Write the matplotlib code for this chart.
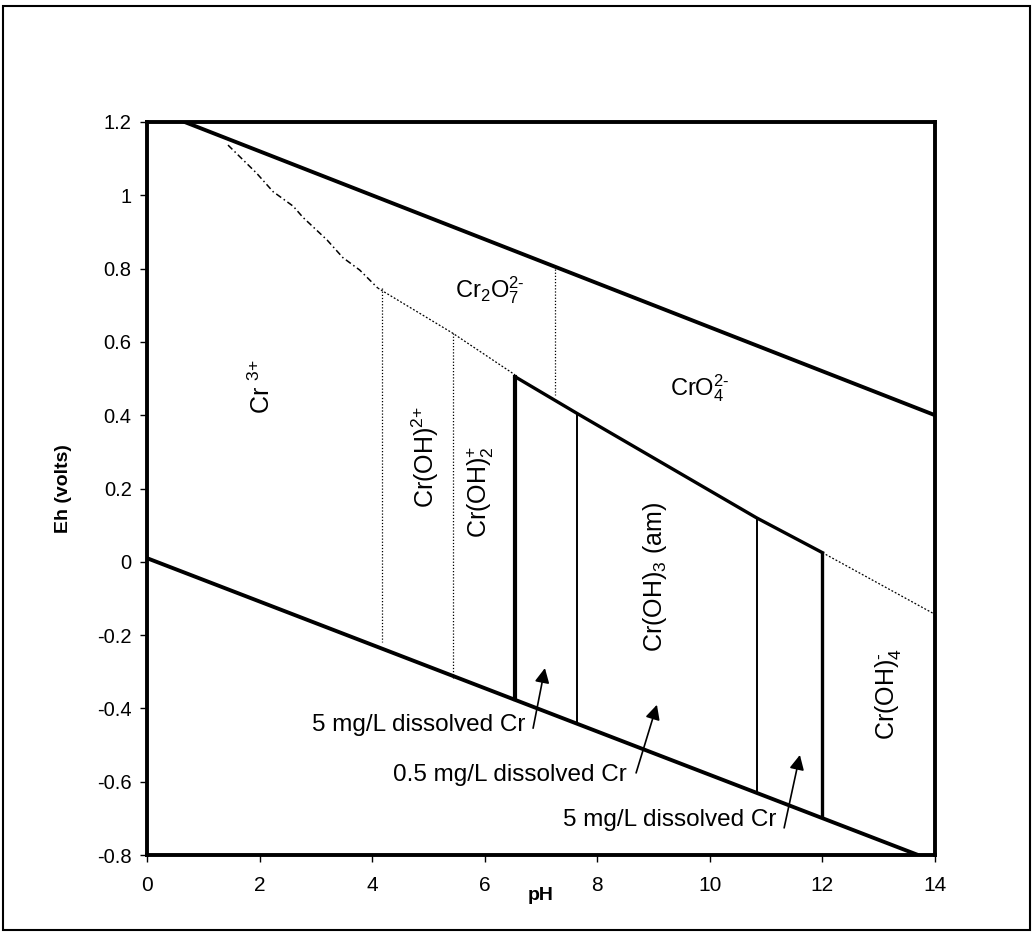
import matplotlib.pyplot as plt
from matplotlib.patches import Rectangle

plt.rcParams['font.family'] = ['Liberation Sans', 'DejaVu Sans']
plt.rcParams['mathtext.fontset'] = 'custom'
plt.rcParams['mathtext.rm'] = 'Liberation Sans'
plt.rcParams['mathtext.it'] = 'Liberation Sans:italic'
plt.rcParams['mathtext.bf'] = 'Liberation Sans:bold'

# water stability limits
upper_water_ph = [0.67, 14.0]
upper_water_eh = [1.2, 0.40]
lower_water_ph = [0.0, 13.7]
lower_water_eh = [0.01, -0.80]

# Cr3+ / Cr2O7 2- boundary (dashed, hand-drawn look)
dash_ph = [1.44, 1.95, 2.24, 2.6, 2.77, 3.2, 3.48, 3.78, 4.1]
dash_eh = [1.137, 1.06, 1.01, 0.97, 0.94, 0.878, 0.83, 0.796, 0.747]
# dotted continuation to Cr(OH)3 field
dot_ph = [4.1, 5.43, 6.54]
dot_eh = [0.747, 0.624, 0.51]
# Cr(OH)3 (am) upper boundary
solid_ph = [6.54, 7.64, 10.83, 12.0]
solid_eh = [0.505, 0.405, 0.12, 0.025]
dot2_ph = [12.0, 13.96]
dot2_eh = [0.025, -0.14]

# dotted verticals (pH, top, bottom)
dotted_v = [(4.17, 0.747, -0.22), (5.43, 0.624, -0.32), (7.25, 0.80, 0.455)]
# solid verticals (pH, top, bottom, width)
solid_v = [(6.54, 0.505, -0.375, 3.0), (7.64, 0.405, -0.44, 1.4),
           (10.83, 0.12, -0.63, 1.4), (12.0, 0.025, -0.69, 2.4)]

labels = [
    ('Cr $^{\\text{3+}}$', 2.04, 0.477),
    ('Cr(OH)$^{\\text{2+}}$', 4.94, 0.286),
    ('Cr(OH)$_{\\text{2}}^{\\text{+}}$', 5.92, 0.19),
    ('Cr(OH)$_{\\text{3}}$ (am)', 9.02, -0.04),
    ('Cr(OH)$_{\\text{4}}^{\\text{-}}$', 13.16, -0.36),
]
flat_labels = [
    ('Cr$_{\\text{2}}$O$_{\\text{7}}^{\\text{2-}}$', 6.09, 0.742),
    ('CrO$_{\\text{4}}^{\\text{2-}}$', 9.82, 0.474),
]
notes = [
    ('5 mg/L dissolved Cr', 6.72, -0.446, (6.86, -0.454), (7.07, -0.29)),
    ('0.5 mg/L dissolved Cr', 8.53, -0.582, (8.69, -0.576), (9.06, -0.39)),
    ('5 mg/L dissolved Cr', 11.19, -0.705, (11.32, -0.726), (11.60, -0.527)),
]

fig = plt.figure(figsize=(10.32, 9.32), dpi=100)
ax = fig.add_axes([0.1424, 0.0826, 0.7636, 0.7865])

ax.plot(upper_water_ph, upper_water_eh, color='black', lw=2.8)
ax.plot(lower_water_ph, lower_water_eh, color='black', lw=2.8)
ax.plot(dash_ph, dash_eh, color='black', lw=1.1, dashes=(4, 2, 1, 2))
ax.plot(dot_ph, dot_eh, color='black', lw=0.9, dashes=(1.5, 1.5))
ax.plot(solid_ph, solid_eh, color='black', lw=2.4)
ax.plot(dot2_ph, dot2_eh, color='black', lw=0.9, dashes=(1.5, 1.5))

for x, top, bot in dotted_v:
    ax.plot([x, x], [top, bot], color='black', lw=0.9, dashes=(1, 1.5))
for x, top, bot, w in solid_v:
    ax.plot([x, x], [top, bot], color='black', lw=w)

for txt, x, y in labels:
    ax.text(x, y, txt, rotation=90, ha='center', va='center', fontsize=18)
for txt, x, y in flat_labels:
    ax.text(x, y, txt, ha='center', va='center', fontsize=17)

for txt, x, y, tail, head in notes:
    ax.text(x, y, txt, ha='right', va='center', fontsize=17.5)
    ax.annotate('', xy=head, xytext=tail,
                arrowprops=dict(arrowstyle='-|>', color='black', lw=1.2,
                                mutation_scale=22, shrinkA=0, shrinkB=0))

ax.set_xlim(0, 14)
ax.set_ylim(-0.8, 1.2)
ax.set_xticks([0, 2, 4, 6, 8, 10, 12, 14])
ax.set_yticks([-0.8, -0.6, -0.4, -0.2, 0, 0.2, 0.4, 0.6, 0.8, 1, 1.2])
ax.set_yticklabels(['-0.8', '-0.6', '-0.4', '-0.2', '0', '0.2', '0.4',
                    '0.6', '0.8', '1', '1.2'])
ax.tick_params(axis='x', direction='out', length=5, width=1, labelsize=15, pad=10)
ax.tick_params(axis='y', direction='out', length=5, width=1, labelsize=14.5, pad=6)
for s in ax.spines.values():
    s.set_linewidth(2.8)

ax.set_xlabel('pH', fontsize=14, fontweight='bold', labelpad=-6)
ax.set_ylabel('Eh (volts)', fontsize=14, fontweight='bold', labelpad=18)

fig.patches.append(Rectangle((0.003, 0.002), 0.995, 0.992, transform=fig.transFigure,
                             fill=False, edgecolor='black', lw=1.5))

fig.savefig('out.png', dpi=100)
